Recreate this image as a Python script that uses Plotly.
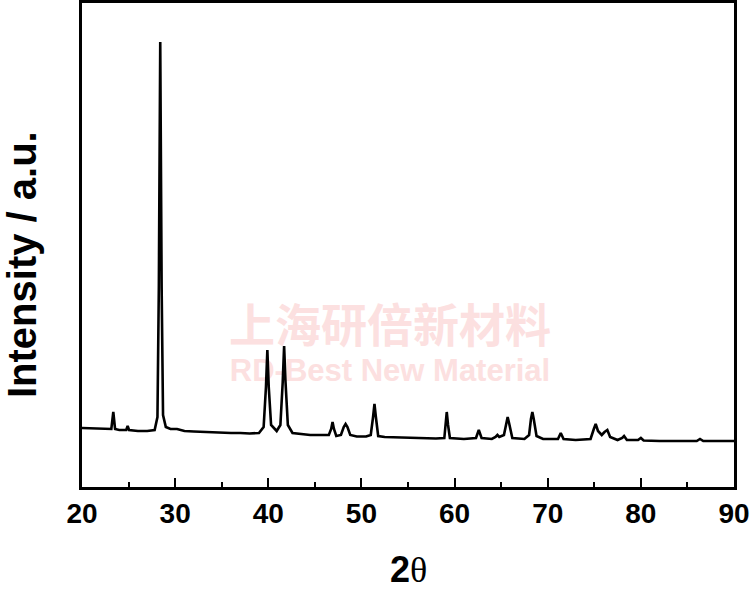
import plotly.graph_objects as go

# XRD pattern (arbitrary intensity units)
two_theta = [20.0, 21.0, 22.0, 23.0, 23.15, 23.36, 23.55, 24.0, 24.75, 24.9, 25.05, 26.0, 27.0,
             27.8, 28.1, 28.25, 28.4, 28.55, 28.7, 29.0, 29.5, 30.2, 31.0, 32.0, 33.0, 34.0,
             35.0, 36.0, 37.0, 38.0, 39.0, 39.5, 39.75, 39.9, 40.05, 40.3, 40.9, 41.3, 41.55,
             41.7, 41.85, 42.1, 42.6, 43.5, 44.5, 45.5, 46.5, 46.75, 46.9, 47.05, 47.3, 47.8,
             48.1, 48.3, 48.5, 48.8, 49.5, 50.5, 51.0, 51.25, 51.4, 51.55, 51.8, 52.5, 54.0,
             56.0, 58.0, 58.9, 59.05, 59.16, 59.3, 59.5, 61.0, 62.3, 62.6, 62.9, 64.0, 64.4,
             64.6, 64.8, 65.3, 65.55, 65.7, 65.85, 66.2, 67.5, 68.0, 68.2, 68.35, 68.5, 68.8,
             69.5, 71.1, 71.4, 71.7, 73.0, 74.6, 74.95, 75.15, 75.4, 75.8, 76.1, 76.4, 76.7,
             77.5, 78.0, 78.2, 78.5, 79.7, 80.0, 80.3, 82.0, 84.0, 86.0, 86.35, 86.7, 88.0, 90.0]
intensity = [59, 58.5, 58, 57.5, 58, 75, 58, 57, 57, 61, 57, 56, 56,
             57, 70, 200, 445, 200, 72, 60, 58, 58, 56, 55.5, 55, 54.5,
             54, 54, 54, 53.5, 54, 60, 100, 137, 100, 62, 56, 62, 105,
             141, 105, 62, 54, 53, 52, 52, 52, 58, 65, 58, 51, 52,
             60, 63, 60, 52, 50.5, 50.5, 52, 70, 83, 70, 51, 50, 49.5,
             49, 48.5, 49, 65, 75, 62, 49, 48, 49, 57, 49, 48, 50,
             52, 50, 52, 64, 70, 64, 49, 48, 52, 68, 75, 68, 51,
             48, 48, 54, 48, 47, 48, 58, 63, 56, 52, 55, 57, 50,
             47, 49, 51, 47, 47, 49, 46.5, 46, 46, 46, 48, 46, 46, 46]

x_ticks = [20, 30, 40, 50, 60, 70, 80, 90]

watermark_lines = ["<b>上海研倍新材料</b>", "<b>RD-Best New Material</b>"]
wm_color = "rgb(252,224,224)"

fig = go.Figure()
# watermark drawn first, so that the pattern lies over it
fig.add_trace(go.Scatter(x=[53.07], y=[157], mode="text", text=[watermark_lines[0]],
                         textfont=dict(size=46, family="Noto Sans CJK SC", color=wm_color),
                         showlegend=False, hoverinfo="skip"))
fig.add_trace(go.Scatter(x=[53.07], y=[114], mode="text", text=[watermark_lines[1]],
                         textfont=dict(size=31, family="Liberation Sans, Arial", color=wm_color),
                         showlegend=False, hoverinfo="skip"))
fig.add_trace(go.Scatter(x=two_theta, y=intensity, mode="lines",
                         line=dict(color="black", width=2.6), showlegend=False))

fig.update_layout(
    width=750, height=589,
    margin=dict(l=82, r=16, t=3, b=102),
    paper_bgcolor="white", plot_bgcolor="white",
    font=dict(family="Liberation Sans, Arial", color="black"),
    xaxis=dict(range=[20, 90], tickvals=x_ticks, ticktext=[str(v) for v in x_ticks],
               ticks="inside", ticklen=9, tickwidth=2, tickcolor="black",
               minor=dict(ticks="inside", ticklen=5, tickwidth=2, dtick=5, tickcolor="black"),
               showline=True, linewidth=2.5, linecolor="black", mirror=True,
               showgrid=False, zeroline=False, automargin=False,
               tickfont=dict(size=28, family="Liberation Sans, Arial", weight="bold"),
               ticklabelstandoff=0),
    yaxis=dict(range=[0, 484], showticklabels=False, ticks="",
               showline=True, linewidth=2.5, linecolor="black", mirror=True,
               showgrid=False, zeroline=False, automargin=False),
)

# axis titles
fig.add_annotation(text="<b>Intensity / a.u.</b>", textangle=-90,
                   xref="paper", yref="paper", x=(22 - 82) / 652, y=(487 - 265) / 484,
                   xanchor="center", yanchor="middle", showarrow=False,
                   font=dict(size=40, family="Liberation Sans, Arial", color="black"))
fig.add_annotation(text="<b>2</b><span style=\"font-family:'Liberation Serif'\">θ</span>",
                   xref="paper", yref="paper", x=0.5, y=(487 - 569) / 484,
                   xanchor="center", yanchor="middle", showarrow=False,
                   font=dict(size=36, family="Liberation Sans, Arial", color="black"))

fig.write_html("out.html", config={"displayModeBar": False},
               post_script="document.body.style.margin='0';document.body.style.overflow='hidden';")
